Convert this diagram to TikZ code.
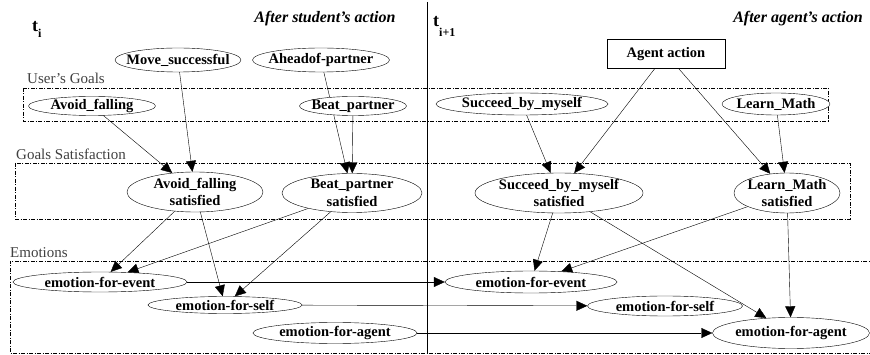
\documentclass[tikz,border=0pt]{standalone}
\usepackage{fontspec}
\setmainfont{Liberation Serif}
\usetikzlibrary{arrows.meta,shapes.geometric,backgrounds}
\tikzset{
	var/.style={draw, ellipse, fill=white, inner xsep=-40pt, inner ysep=-20pt, align=center, font=\fontsize{14.5}{17.5}\selectfont\bfseries},
	act/.style={draw, rectangle, fill=white, inner sep=0pt, font=\fontsize{14.5}{17.5}\selectfont\bfseries},
	grp/.style={draw, dash pattern=on 4pt off 1.5pt on 1pt off 1.5pt},
	grplabel/.style={anchor=base west, inner sep=0pt, text=black!75, font=\fontsize{15}{17}\selectfont},
	phase/.style={anchor=base, inner sep=0pt, font=\fontsize{16}{18}\selectfont\bfseries\itshape},
}
\begin{document}
\begin{tikzpicture}[x=1pt, y=-1pt, >={Triangle[length=11pt,width=10pt]}]
		\useasboundingbox (0,0) rectangle (870,355);
		\draw (427,2) -- (427,353);
		\node[anchor=base west, inner sep=0pt, font=\fontsize{18}{20}\selectfont\bfseries] (ti) at (32,32) {t\raisebox{-6pt}{\fontsize{12}{12}\selectfont i}};
		\node[anchor=base west, inner sep=0pt, font=\fontsize{18}{20}\selectfont\bfseries] (tnext) at (433,27) {t\raisebox{-10pt}{\fontsize{12}{12}\selectfont i+1}};
		\node[phase] (student) at (325,23) {After student’s action};
		\node[phase] (agentphase) at (798,23) {After agent’s action};
		\draw[grp] (23,88) rectangle (828,121);
		\draw[grp] (15,163) rectangle (850,219);
		\draw[grp] (875,261) -| (10,353) -- (875,353);
		\node[grplabel] (goals) at (27,84) {User’s Goals};
		\node[grplabel] (satisf) at (16,160) {Goals Satisfaction};
		\node[grplabel] (emot) at (10,258) {Emotions};
		\node[var, minimum width=126pt, minimum height=24pt] (move) at (178,60) {Move\_successful};
		\node[var, minimum width=137pt, minimum height=24pt] (ahead) at (321,60) {Aheadof-partner};
		\node[act, minimum width=118pt, minimum height=29pt] (agent) at (666,54) {Agent action};
		\node[var, minimum width=127pt, minimum height=19pt] (avoid) at (92,106) {Avoid\_falling};
		\node[var, minimum width=107pt, minimum height=19pt] (beat) at (353,106) {Beat\_partner};
		\node[var, minimum width=172pt, minimum height=22pt] (succeed) at (522,104) {Succeed\_by\_myself};
		\node[var, minimum width=108pt, minimum height=22pt] (learn) at (776,104) {Learn\_Math};
		\node[var, minimum width=136pt, minimum height=40pt] (avoidsat) at (195,192) {Avoid\_falling\\satisfied};
		\node[var, minimum width=140pt, minimum height=39pt] (beatsat) at (352,193) {Beat\_partner\\satisfied};
		\node[var, minimum width=168pt, minimum height=40pt] (succeedsat) at (559,193) {Succeed\_by\_myself\\satisfied};
		\node[var, minimum width=106pt, minimum height=40pt] (learnsat) at (787,193) {Learn\_Math\\satisfied};
		\node[var, minimum width=174pt, minimum height=20pt] (eventl) at (100,282) {emotion-for-event};
		\node[var, minimum width=154pt, minimum height=17pt] (selfl) at (225,305) {emotion-for-self};
		\node[var, minimum width=164pt, minimum height=21pt] (agentl) at (335,333) {emotion-for-agent};
		\node[var, minimum width=172pt, minimum height=22pt] (eventr) at (531,282) {emotion-for-event};
		\node[var, minimum width=155pt, minimum height=20pt] (selfr) at (665,306) {emotion-for-self};
		\node[var, minimum width=157pt, minimum height=31pt] (agentr) at (791,333) {emotion-for-agent};
		\begin{pgfonlayer}{background}
		\draw[->] (move) -- (avoidsat);
		\draw[->] (avoid) -- (avoidsat);
		\draw[->] (ahead) -- (beatsat);
		\draw[->] (beat) -- (beatsat);
		\draw[->] (avoidsat) -- (eventl);
		\draw[->] (avoidsat) -- (selfl);
		\draw[->] (beatsat) -- (eventl);
		\draw[->] (beatsat) -- (selfl);
		\draw[->] (eventl) -- (eventr);
		\draw[->] (selfl) -- (selfr);
		\draw[->] (agentl) -- (agentr);
		\draw[->] (succeed) -- (succeedsat);
		\draw[->] (agent) -- (succeedsat);
		\draw[->] (agent) -- (learnsat);
		\draw[->] (learn) -- (learnsat);
		\draw[->] (succeedsat) -- (eventr);
		\draw[->] (succeedsat) -- (agentr);
		\draw[->] (learnsat) -- (eventr);
		\draw[->] (learnsat) -- (agentr);
		\end{pgfonlayer}
	\end{tikzpicture}
\end{document}
